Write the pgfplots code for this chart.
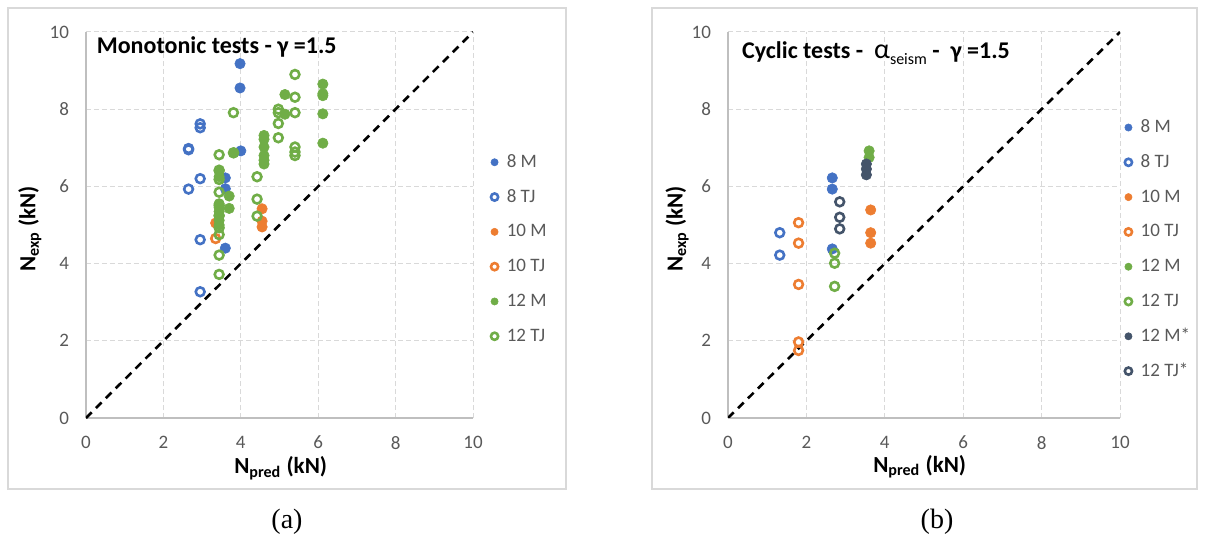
\documentclass[border=0pt]{standalone}
\usepackage{fontspec}
\setmainfont{Carlito}
\newfontfamily\capfont{Liberation Serif}
\usepackage{pgfplots}
\pgfplotsset{compat=1.18}
\definecolor{cblue}{HTML}{4472C4}
\definecolor{corange}{HTML}{ED7D31}
\definecolor{cgreen}{HTML}{70AD47}
\definecolor{cdark}{HTML}{44546A}
\definecolor{tickgray}{HTML}{595959}
\definecolor{gridgray}{HTML}{D9D9D9}
\definecolor{axgray}{HTML}{BFBFBF}
\definecolor{framegray}{HTML}{D9D9D9}
\pgfplotsset{
  myaxis/.style={
    scale only axis, xmin=0, xmax=10, ymin=0, ymax=10,
    xtick={0,2,...,10}, ytick={0,2,...,10},
    axis x line*=bottom, axis y line*=left,
    axis line style={draw=axgray, line width=0.6pt},
    major tick length=0pt,
    grid=major,
    major grid style={draw=gridgray, line width=0.5pt, dash pattern=on 2.5pt off 1.5pt},
    /pgf/number format/assume math mode=true,
    tick label style={font=\fontsize{9.5}{10}\selectfont, text=tickgray},
    xticklabel shift=5.5pt, yticklabel shift=5pt,
    label style={font=\bfseries\fontsize{11.5}{13}\selectfont, text=black, inner sep=0pt},
    xlabel={N\textsubscript{pred} (kN)},
    ylabel={N\textsubscript{exp} (kN)},
    legend cell align=left,
    legend image code/.code={\path[draw=none, fill=none] (0cm,-0.1cm) rectangle (0.28cm,0.1cm); \draw[mark size=1.8pt] plot coordinates {(0.1cm,0cm)};},
    legend style={draw=none, fill=none, font=\fontsize{9.5}{10}\selectfont, text=tickgray,
      row sep=7.2pt, inner sep=0pt,
      nodes={text height=6.6pt, text depth=1.6pt, inner sep=1pt}},
  },
  fm/.style={only marks, mark=*, mark size=2.6pt, mark options={draw=#1, fill=#1, line width=0.3pt}},
  om/.style={only marks, mark=o, mark size=2.2pt, mark options={draw=#1, fill=white, line width=1.3pt}},
}
\begin{document}
\begin{tikzpicture}
\useasboundingbox (0,0) rectangle (602.5pt,270.5pt);
\draw[framegray, line width=0.6pt] (4pt,26pt) rectangle (283pt,266.5pt);
\draw[framegray, line width=0.6pt] (326pt,26pt) rectangle (598.5pt,266.5pt);
\node[font=\capfont\fontsize{14}{16}\selectfont] at (143.5pt,9.5pt) {(a)};
\node[font=\capfont\fontsize{14}{16}\selectfont] at (468.5pt,9.5pt) {(b)};

% ---------- (a) ----------
\begin{axis}[myaxis, at={(43pt,61.5pt)}, anchor=south west, width=193.5pt, height=193pt,
  xlabel style={at={(axis description cs:0.503,-0.13)}, anchor=center},
  ylabel style={at={(axis description cs:-0.145,0.49)}, anchor=center},
  legend style={at={(1.04,0.69)}, anchor=north west}]
\addplot[black, line width=1.3pt, dash pattern=on 4pt off 3pt, forget plot] coordinates {(0,0) (10,10)};
\addplot[fm=cblue] coordinates {(3.98,9.18) (3.98,8.55) (4.0,6.92) (3.6,6.22) (3.6,5.94) (3.6,4.4)};
\addlegendentry{8 M}
\addplot[om=cblue] coordinates {(2.95,7.62) (2.95,7.52) (2.65,6.98) (2.65,6.95) (2.95,6.2) (2.65,5.93) (2.95,4.62) (2.95,3.27)};
\addlegendentry{8 TJ}
\addplot[fm=corange] coordinates {(4.55,5.42) (4.55,5.1) (4.55,4.95) (3.35,5.05)};
\addlegendentry{10 M}
\addplot[om=corange] coordinates {(3.35,4.65)};
\addlegendentry{10 TJ}
\addplot[fm=cgreen] coordinates {(3.44,6.4) (3.44,6.25) (3.44,5.55) (3.44,5.45) (3.44,5.35) (3.44,5.25) (3.44,5.12) (3.44,5.0) (3.7,5.75) (3.7,5.43) (3.82,6.87) (4.6,7.32) (4.6,7.22) (4.6,7.02) (4.6,6.8) (4.6,6.68) (4.6,6.58) (5.14,8.38) (5.14,7.87) (6.12,8.65) (6.12,8.4) (6.12,8.35) (6.12,7.88) (6.12,7.12)};
\addlegendentry{12 M}
\addplot[om=cgreen] coordinates {(5.4,8.9) (5.4,8.31) (5.4,7.91) (5.4,7.02) (5.4,6.89) (5.4,6.8) (4.97,8.0) (4.97,7.91) (4.97,7.63) (4.97,7.26) (3.81,7.91) (3.81,6.87) (3.44,6.82) (3.44,6.42) (3.44,6.18) (3.44,5.85) (3.44,5.51) (3.44,5.24) (3.44,4.93) (3.44,4.75) (3.44,4.22) (3.44,3.72) (4.42,6.25) (4.42,5.67) (4.42,5.23)};
\addlegendentry{12 TJ}
\node[anchor=west, font=\bfseries\fontsize{12}{14}\selectfont, inner sep=0pt] at (axis cs:0.27,9.62) {Monotonic tests - γ =1.5};
\end{axis}

% ---------- (b) ----------
\begin{axis}[myaxis, at={(364pt,61.5pt)}, anchor=south west, width=196pt, height=193pt,
  xlabel style={at={(axis description cs:0.489,-0.126)}, anchor=center},
  ylabel style={at={(axis description cs:-0.13,0.49)}, anchor=center},
  legend style={at={(1.006,0.78)}, anchor=north west}]
\addplot[black, line width=1.3pt, dash pattern=on 4pt off 3pt, forget plot] coordinates {(0,0) (10,10)};
\addplot[fm=cblue] coordinates {(2.66,6.22) (2.66,5.93) (2.66,4.38)};
\addlegendentry{8 M}
\addplot[om=cblue] coordinates {(1.32,4.8) (1.32,4.22)};
\addlegendentry{8 TJ}
\addplot[fm=corange] coordinates {(3.64,5.39) (3.64,4.8) (3.64,4.53)};
\addlegendentry{10 M}
\addplot[om=corange] coordinates {(1.8,5.06) (1.8,4.53) (1.8,3.46) (1.8,1.97) (1.8,1.75)};
\addlegendentry{10 TJ}
\addplot[fm=cgreen] coordinates {(3.6,6.92) (3.6,6.75)};
\addlegendentry{12 M}
\addplot[om=cgreen] coordinates {(2.72,4.27) (2.72,4.01) (2.72,3.41)};
\addlegendentry{12 TJ}
\addplot[fm=cdark] coordinates {(3.53,6.58) (3.53,6.45) (3.53,6.3)};
\addlegendentry{12 M*}
\addplot[om=cdark] coordinates {(2.85,5.6) (2.85,5.2) (2.85,4.9)};
\addlegendentry{12 TJ*}
\node[anchor=west, font=\bfseries\fontsize{12}{14}\selectfont, inner sep=0pt] at (axis cs:0.35,9.45) {Cyclic tests -\ \ {\mdseries\fontsize{14}{14}\selectfont α}\raisebox{-0.45ex}{\mdseries\fontsize{8}{8}\selectfont seism} -\ \ γ =1.5};
\end{axis}
\end{tikzpicture}
\end{document}
